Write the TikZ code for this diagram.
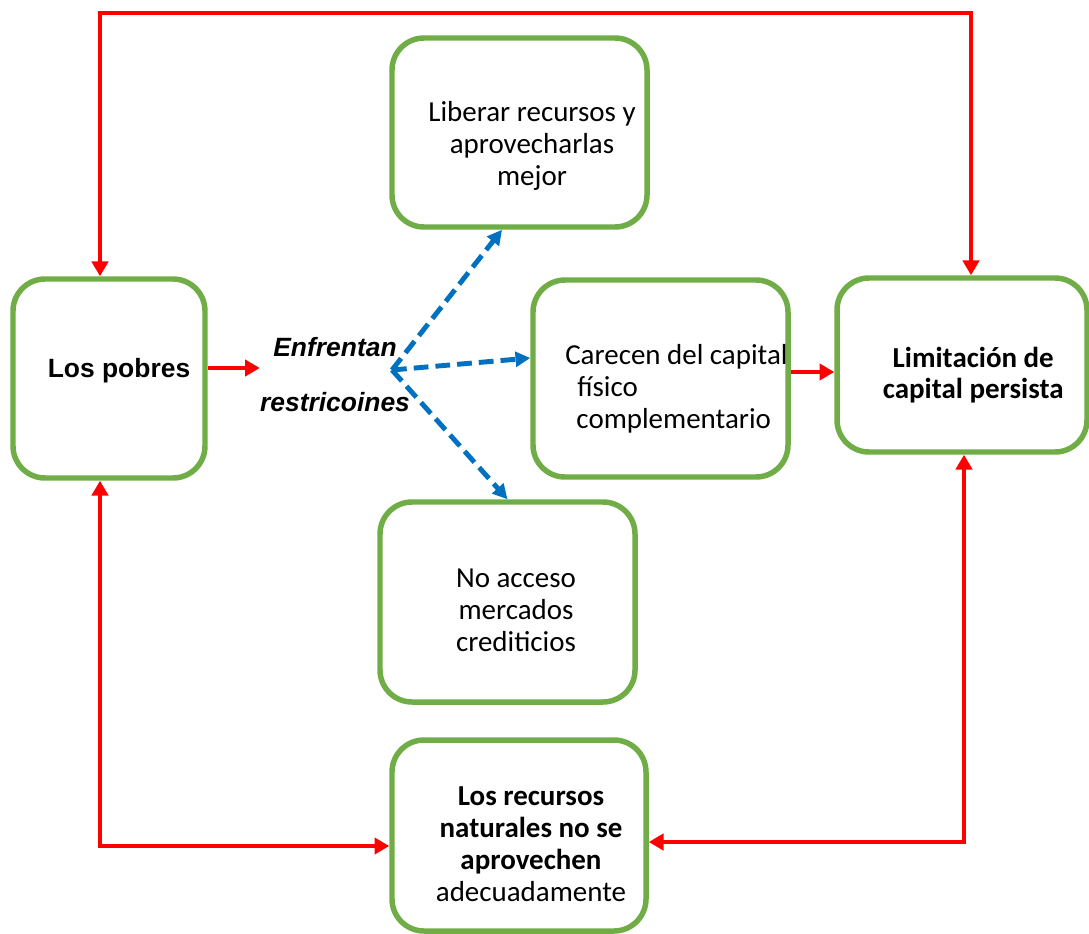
\documentclass[tikz,border=0pt]{standalone}
\usepackage{fontspec}
\setmainfont{Carlito}
\newfontfamily\arialfont{Liberation Sans}
\usetikzlibrary{arrows.meta,positioning}
\definecolor{boxgreen}{HTML}{70AD47}
\definecolor{linkred}{HTML}{FF0000}
\definecolor{linkblue}{HTML}{0070C0}

\begin{document}
\begin{tikzpicture}
  \tikzset{box/.style={draw=boxgreen,line width=3.9pt,rounded corners=0.8cm,minimum width=6.375cm,minimum height=4.9cm},
    txt/.style={align=center,inner sep=0pt,font=\fontsize{20.6}{22.7}\selectfont},
    redlink/.style={draw=linkred,line width=3.2pt,>={Triangle[length=10.5pt,width=11.5pt]}},
    bluelink/.style={draw=linkblue,line width=3.5pt,dash pattern=on 10.5pt off 5pt,>={Triangle[length=10.5pt,width=10.5pt]}}}
  \useasboundingbox (0,0) rectangle (27.225,-23.325);
  % boxes
  \node [box, minimum width=4.8cm, minimum height=4.975cm] (pobres) at (2.725,-9.4625) {};
  \node [box, minimum height=4.725cm] (liberar) at (12.9875,-3.3125) {};
  \node [box, minimum height=4.925cm] (carecen) at (16.5125,-9.4625) {};
  \node [box, minimum width=6.25cm, minimum height=4.35cm] (limitacion) at (24.05,-9.125) {};
  \node [box, minimum height=5cm] (acceso) at (12.6875,-15.05) {};
  \node [box, minimum width=6.35cm, minimum height=4.775cm] (recursos) at (12.975,-20.8875) {};
  % texts
  \node [txt, anchor=base, font=\arialfont\bfseries\fontsize{18.8}{22}\selectfont] (pobres-t) at (2.975,-9.425) {Los pobres};
  \node [txt, font=\arialfont\bfseries\itshape\fontsize{18.8}{39}\selectfont] (restr) at (8.375,-9.36) {Enfrentan\\restricoines};
  \node [txt] (liberar-t) at (13.3,-3.65) {Liberar recursos y\\aprovecharlas\\mejor};
  \node [txt, align=left, anchor=west] (carecen-t) at (14.125,-9.725) {Carecen del capital\\\hspace*{0.3cm}físico\\\hspace*{0.28cm}complementario};
  \node [txt, font=\bfseries\fontsize{20.6}{21.5}\selectfont] (limitacion-t) at (24.33,-9.375) {Limitación de\\capital persista};
  \node [txt] (acceso-t) at (12.9,-15.25) {No acceso\\mercados\\crediticios};
  \node [txt] (recursos-t) at (13.275,-21.1125) {\textbf{Los recursos}\\\textbf{naturales no se}\\\textbf{aprovechen}\\adecuadamente};
  % connectors
  \coordinate (top-l) at (2.5,-0.325);
  \coordinate (top-r) at (24.275,-0.325);
  \coordinate (bot-l) at (2.5,-21.15);
  \coordinate (bot-r) at (24.1,-21.05);
  \coordinate (lvl1) at (0,-9.2);
  \coordinate (lvl2) at (0,-9.3);
  \coordinate (hub) at (9.8,-9.25);
  \draw [redlink, <->] (pobres.north -| top-l) -- (top-l) -- (top-r) -- (limitacion.north -| top-r);
  \draw [redlink, <->] (pobres.south -| bot-l) -- (bot-l) -- (bot-l -| recursos.west);
  \draw [redlink, <->] (limitacion.south -| bot-r) -- (bot-r) -- (bot-r -| recursos.east);
  \draw [redlink, ->] (pobres.east |- lvl1) -- (restr.west |- lvl1);
  \draw [redlink, ->] (carecen.east |- lvl2) -- (limitacion.west |- lvl2);
  \draw [bluelink, ->] (hub) -- ([xshift=-0.4375cm]liberar.south);
  \draw [bluelink, ->] (hub) -- ([yshift=0.5125cm]carecen.west);
  \draw [bluelink, ->] (hub) -- (acceso.north);
\end{tikzpicture}
\end{document}
